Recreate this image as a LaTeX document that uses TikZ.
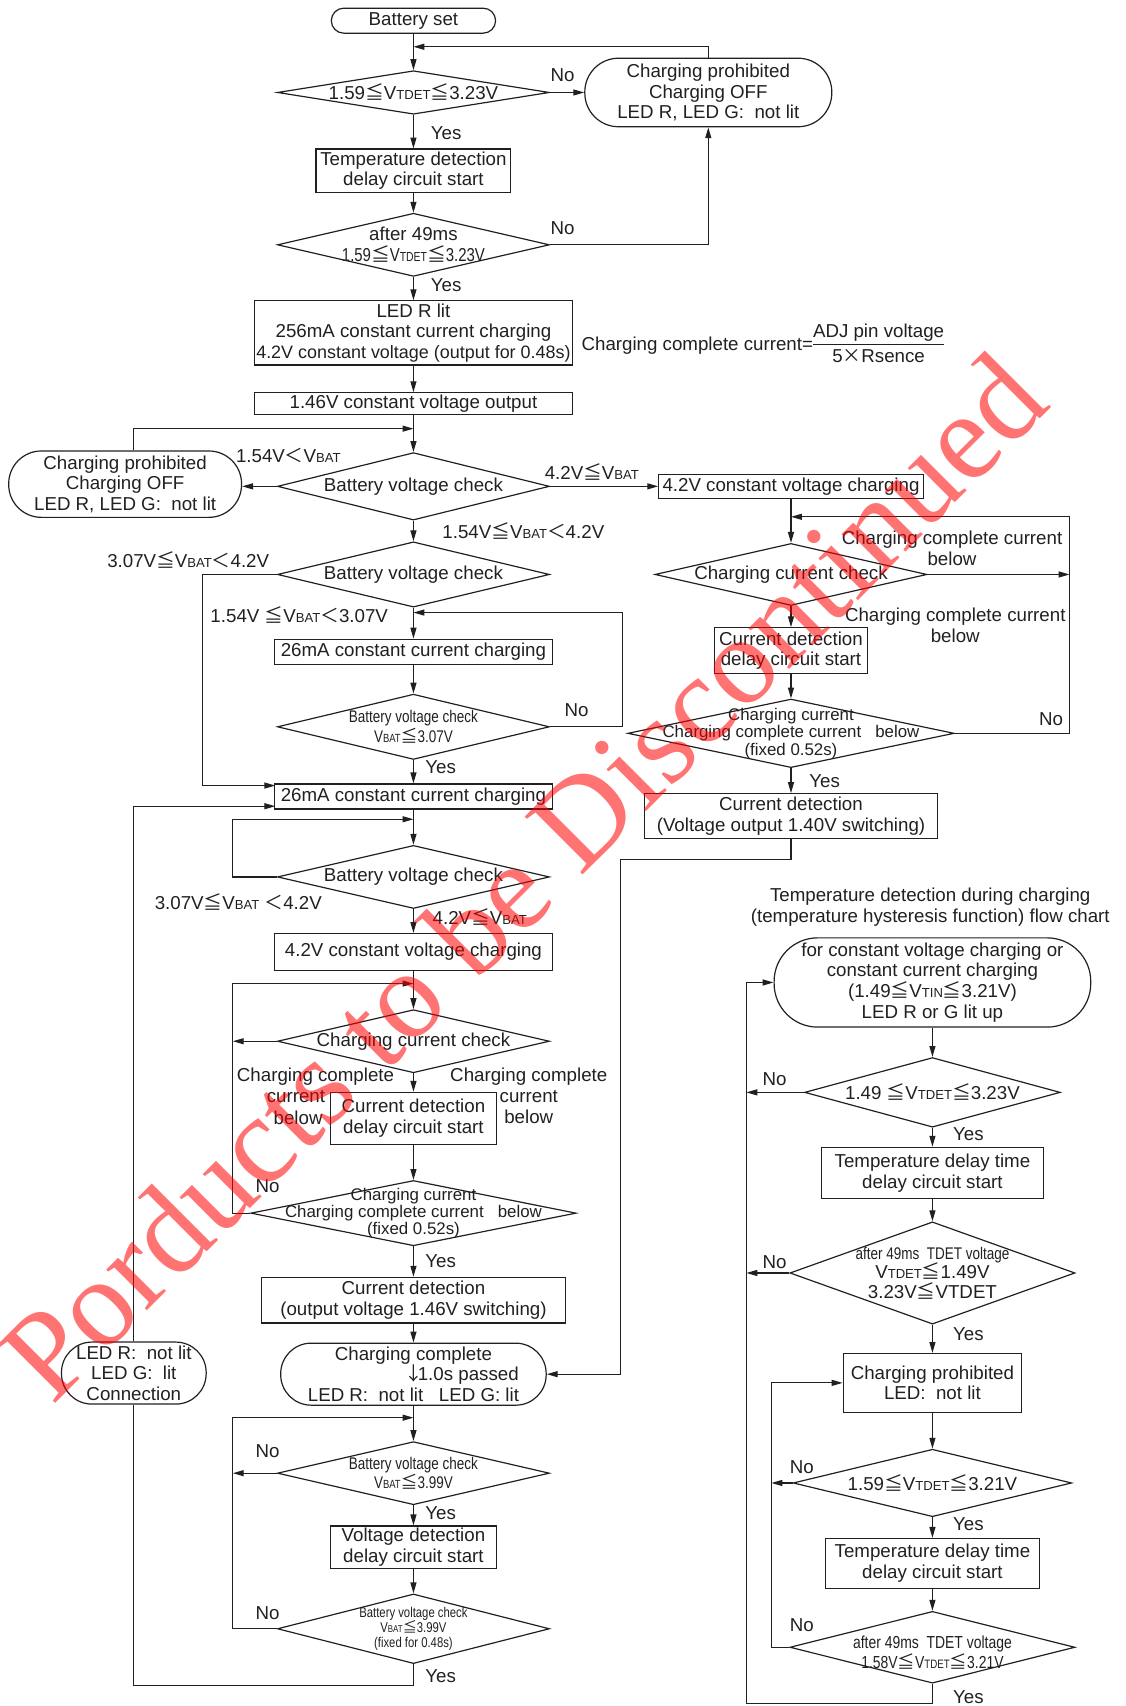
\documentclass[tikz,border=0pt]{standalone}
\usepackage{fontspec}
\setmainfont{Liberation Sans}
\newfontfamily\jp{Noto Sans CJK JP}
\newfontfamily\cond[FakeStretch=0.8]{Liberation Sans}
\newfontfamily\wmfont{Liberation Serif}
\usetikzlibrary{shapes.geometric,arrows.meta}

\definecolor{ink}{RGB}{35,31,32}

\newcommand\leqs{{\jp ≦}}
\newcommand\lts{{\jp ＜}}
\makeatletter
\newcommand\vs[1]{V{\fontsize{\the\dimexpr 7\dimexpr\f@size pt\relax/10\relax}{\baselineskip}\selectfont #1}}
\makeatother

\tikzset{
  box/.style={draw, rectangle, inner sep=0pt, align=center},
  dec/.style={draw, diamond, inner sep=0pt},
  term/.style={draw, rectangle, inner sep=0pt, align=center},
  wh/.style 2 args={minimum width=#1pt, minimum height=#2pt},
  arr/.style={-{Triangle[length=10pt,width=5.5pt]}}
}

\begin{document}
\begin{tikzpicture}[x=1pt, y=-1pt, line width=1.1pt, color=ink,
  every node/.style={font=\fontsize{17.2}{19}\selectfont}]
\useasboundingbox (0,0) rectangle (1034,1568);

% main column
\node[term, wh={151}{23}, rounded corners=11.5pt] (bset) at (380,19) {Battery set};
\node[dec, wh={250}{40}, label={[name=d1t]center:{1.59\leqs\vs{TDET}\leqs3.23V}}] (d1) at (380,85) {};
\node[term, wh={227}{63}, rounded corners=31pt] (prohib1) at (651,85) {Charging prohibited\\Charging OFF\\LED R, LED G:\ \ not lit};
\node[box, wh={179}{40}] (tdelay) at (380,157) {Temperature detection\\delay circuit start};
\node[dec, wh={250}{58}, label={[name=d2t, align=center]center:{after 49ms\\{\cond 1.59\leqs\vs{TDET}\leqs3.23V}}}] (d2) at (380,225) {};
\node[box, wh={292}{59}] (ledr) at (380,306) {LED R lit\\256mA constant current charging\\{\fontsize{16.5}{19}\selectfont 4.2V constant voltage (output for 0.48s)}};
\node[box, wh={292}{20}] (v146) at (380,371) {1.46V constant voltage output};
\node[anchor=west, inner sep=0pt] (fml) at (534,318) {Charging complete current=\begin{tabular}{@{}c@{}}ADJ pin voltage\rule[-5pt]{0pt}{5pt}\\\hline \rule{0pt}{17pt}5{\jp ×}Rsence\end{tabular}};
\node[term, wh={214}{61}, rounded corners=30pt] (prohib2) at (115,445) {Charging prohibited\\Charging OFF\\LED R, LED G:\ \ not lit};
\node[dec, wh={250}{62}, label={[name=bv1t]center:Battery voltage check}] (bv1) at (380,447) {};
\node[dec, wh={250}{60}, label={[name=bv2t]center:Battery voltage check}] (bv2) at (380,528) {};
\node[box, wh={255}{23}] (cc26a) at (380,599) {26mA constant current charging};
\node[dec, wh={250}{60}, label={[name=bv3t, align=center, font=\cond\fontsize{15.5}{18}\selectfont]center:{Battery voltage check\\\vs{BAT}\leqs3.07V}}] (bv3) at (380,668) {};
\node[box, wh={255}{23}] (cc26b) at (380,732) {26mA constant current charging};
\node[dec, wh={250}{58}, label={[name=bv4t]center:Battery voltage check}] (bv4) at (380,806) {};
\node[box, wh={255}{34}] (cv42b) at (380,875) {4.2V constant voltage charging};
\node[dec, wh={250}{58}, label={[name=ic2t]center:Charging current check}] (ic2) at (380,957) {};
\node[box, wh={152}{48}] (cdd2) at (380,1028) {Current detection\\delay circuit start};
\node[dec, wh={299}{60}, label={[name=icc2t, align=center, font=\fontsize{15.5}{16}\selectfont]center:{Charging current\\Charging complete current\ \ \ below\\(fixed 0.52s)}}] (icc2) at (380,1115) {};
\node[box, wh={280}{42}] (cdo) at (380,1195) {Current detection\\(output voltage 1.46V switching)};
\node[term, wh={244}{57}, rounded corners=28pt] (done) at (380,1263) {Charging complete\\\makebox[0pt][l]{\hspace{-4pt}\makebox[8pt]{\jp ↓}1.0s passed}\\LED R:\ \ not lit\ \ \ LED G: lit};
\node[term, wh={133}{57}, rounded corners=28pt] (conn) at (123,1262) {LED R:\ \ not lit\\LED G:\ \ lit\\Connection};
\node[dec, wh={250}{58}, label={[name=bv5t, align=center, font=\cond\fontsize{15.5}{18}\selectfont]center:{Battery voltage check\\\vs{BAT}\leqs3.99V}}] (bv5) at (380,1354) {};
\node[box, wh={152}{39}] (vdd) at (380,1422) {Voltage detection\\delay circuit start};
\node[dec, wh={250}{64}, label={[name=bv6t, align=center, font=\cond\fontsize{13}{14}\selectfont]center:{Battery voltage check\\\vs{BAT}\leqs3.99V\\(fixed for 0.48s)}}] (bv6) at (380,1497) {};

% right column
\node[box, wh={243}{22}] (cv42a) at (727,447) {4.2V constant voltage charging};
\node[dec, wh={250}{57}, label={[name=ic1t]center:Charging current check}] (ic1) at (727,528) {};
\node[box, wh={140}{42}] (cdd1) at (727,598) {Current detection\\delay circuit start};
\node[dec, wh={300}{63}, label={[name=icc1t, align=center, font=\fontsize{15.5}{16}\selectfont]center:{Charging current\\Charging complete current\ \ \ below\\(fixed 0.52s)}}] (icc1) at (727,674) {};
\node[box, wh={270}{41}] (cdv) at (727,750) {Current detection\\(Voltage output 1.40V switching)};

% temperature chart
\node[align=center] (ttitle) at (855,834) {Temperature detection during charging\\(temperature hysteresis function) flow chart};
\node[term, wh={291}{82}, rounded corners=40pt] (t0) at (857,903) {for constant voltage charging or\\constant current charging\\(1.49\leqs\vs{TIN}\leqs3.21V)\\LED R or G lit up};
\node[dec, wh={235}{64}, label={[name=t1t]center:{1.49 \leqs\vs{TDET}\leqs3.23V}}] (t1) at (857,1004) {};
\node[box, wh={204}{47}] (t2) at (857,1078) {Temperature delay time\\delay circuit start};
\node[dec, wh={262}{94}, label={[name=t3t, align=center, font=\fontsize{17.2}{18}\selectfont]center:{{\cond\fontsize{15.5}{18}\selectfont after 49ms\ \ TDET voltage}\\\vs{TDET}\leqs1.49V\\3.23V\leqs VTDET}}] (t3) at (857,1170) {};
\node[box, wh={164}{54}] (t4) at (857,1271) {Charging prohibited\\LED:\ \ not lit};
\node[dec, wh={256}{62}, label={[name=t5t]center:{1.59\leqs\vs{TDET}\leqs3.21V}}] (t5) at (857,1363) {};
\node[box, wh={197}{46}] (t6) at (857,1437) {Temperature delay time\\delay circuit start};
\node[dec, wh={262}{66}, label={[name=t7t, align=center, yshift=-5pt, font=\cond\fontsize{16}{19}\selectfont]center:{after 49ms\ \ TDET voltage\\1.58V\leqs\vs{TDET}\leqs3.21V}}] (t7) at (857,1514) {};

% branch texts
\node (no1) at (517,69) {No};
\node (no2) at (517,210) {No};
\node (yes1) at (410,122) {Yes};
\node (yes2) at (410,262) {Yes};
\node (l1) at (265,419) {1.54V\lts\vs{BAT}};
\node (l2) at (544,434) {4.2V\leqs\vs{BAT}};
\node (l3) at (481,488) {1.54V\leqs\vs{BAT}\lts4.2V};
\node (l4) at (173,515) {3.07V\leqs\vs{BAT}\lts4.2V};
\node (l5) at (275,565) {1.54V \leqs\vs{BAT}\lts3.07V};
\node (no3) at (530,653) {No};
\node (yes3) at (405,705) {Yes};
\node (l6) at (219,829) {3.07V\leqs\vs{BAT} \lts4.2V};
\node (l7) at (441,843) {4.2V\leqs\vs{BAT}};
\node (l8a) at (290,990) {Charging complete};
\node (l8b) at (272,1008) {current};
\node (l8c) at (274,1027) {below};
\node[align=center] (l9) at (486,1007) {Charging complete\\current\\below};
\node (no4) at (246,1090) {No};
\node (yes4) at (405,1159) {Yes};
\node (no5) at (246,1334) {No};
\node (yes5) at (405,1391) {Yes};
\node (no6) at (246,1483) {No};
\node (yes6) at (405,1541) {Yes};
\node[align=center] (l10) at (875,504) {Charging complete current\\below};
\node[align=center] (l11) at (878,575) {Charging complete current\\below};
\node (no7) at (966,661) {No};
\node (yes7) at (758,718) {Yes};
\node (no8) at (712,992) {No};
\node (yes8) at (890,1042) {Yes};
\node (no9) at (712,1160) {No};
\node (yes9) at (890,1226) {Yes};
\node (no10) at (737,1348) {No};
\node (yes10) at (890,1401) {Yes};
\node (no11) at (737,1494) {No};
\node (yes11) at (890,1560) {Yes};

% corner points
\coordinate (j1) at (380,43);
\coordinate (j2) at (380,394);
\coordinate (k1) at (186,722);
\coordinate (in1) at (253,722);
\coordinate (in2) at (253,741);
\coordinate (k2) at (572,563);
\coordinate (j3) at (380,563);
\coordinate (k3) at (214,753);
\coordinate (j4) at (380,753);
\coordinate (k4) at (214,904);
\coordinate (j5) at (380,904);
\coordinate (k5) at (214,957);
\coordinate (k6) at (570,790);
\coordinate (k7) at (214,1303);
\coordinate (j6) at (380,1303);
\coordinate (k8) at (214,1354);
\coordinate (k9) at (380,1549);
\coordinate (k10) at (983,475);
\coordinate (j7) at (727,475);
\coordinate (k11) at (983,528);
\coordinate (k12) at (686,1004);
\coordinate (k13) at (686,1170);
\coordinate (k14) at (709,1363);
\coordinate (k15) at (709,1514);
\coordinate (k16) at (686,1566);

% connectors
\draw[arr] (bset) -- (d1);
\draw[arr] (d1) -- (prohib1);
\draw[arr] (prohib1.north) |- (j1);
\draw[arr] (d1) -- (tdelay);
\draw[arr] (tdelay) -- (d2);
\draw[arr] (d2.east) -| (prohib1.south);
\draw[arr] (d2) -- (ledr);
\draw[arr] (ledr) -- (v146);
\draw[arr] (v146) -- (bv1);
\draw[arr] (prohib2.north -| conn) |- (j2);
\draw[arr] (bv1.west) -- (bv1.west -| prohib2.east);
\draw[arr] (bv1) -- (cv42a);
\draw[arr] (bv1) -- (bv2);
\draw[arr] (bv2.west) -| (k1) -- (in1);
\draw[arr] (bv2) -- (cc26a);
\draw[arr] (cc26a) -- (bv3);
\draw[arr] (bv3.east) -| (k2) -- (j3);
\draw[arr] (bv3) -- (cc26b);
\draw[arr] (cc26b) -- (bv4);
\draw[arr] (bv4.west) -| (k3) -- (j4);
\draw[arr] (bv4) -- (cv42b);
\draw[arr] (cv42b) -- (ic2);
\draw[arr] (icc2.west) -| (k4) -- (j5);
\draw[arr] (ic2.west) -- (k5);
\draw[arr] (ic2) -- (cdd2);
\draw[arr] (cdd2) -- (icc2);
\draw[arr] (icc2) -- (cdo);
\draw[arr] (cdo) -- (done);
\draw[arr] (cdv.south) |- (k6) |- (done.east);
\draw[arr] (done) -- (bv5);
\draw[arr] (bv6.west) -| (k7) -- (j6);
\draw[arr] (bv5.west) -- (k8);
\draw[arr] (bv5) -- (vdd);
\draw[arr] (vdd) -- (bv6);
\draw (bv6.south) -- (k9) -| (conn.south);
\draw[arr] (conn.north) |- (in2);
\draw[arr] (cv42a) -- (ic1);
\draw[arr] (icc1.east) -| (k10) -- (j7);
\draw[arr] (ic1.east) -- (k11);
\draw[arr] (ic1) -- (cdd1);
\draw[arr] (cdd1) -- (icc1);
\draw[arr] (icc1) -- (cdv);
\draw[arr] (t0) -- (t1);
\draw[arr] (t1.west) -- (k12);
\draw[arr] (t1) -- (t2);
\draw[arr] (t2) -- (t3);
\draw[arr] (t3.west) -- (k13);
\draw[arr] (t3) -- (t4);
\draw[arr] (t4) -- (t5);
\draw[arr] (t5.west) -- (k14);
\draw[arr] (t5) -- (t6);
\draw[arr] (t6) -- (t7);
\draw[arr] (t7.west) -- (k15) |- (t4.west);
\draw[arr] (t7.south) |- (k16) |- (t0.west);

% watermark
\node[rotate=45, text=red, text opacity=0.55, inner sep=0pt, font=\wmfont\fontsize{115}{115}\selectfont] (wmark) at (480,805) {Porducts to be Discontinued};
\end{tikzpicture}
\end{document}
